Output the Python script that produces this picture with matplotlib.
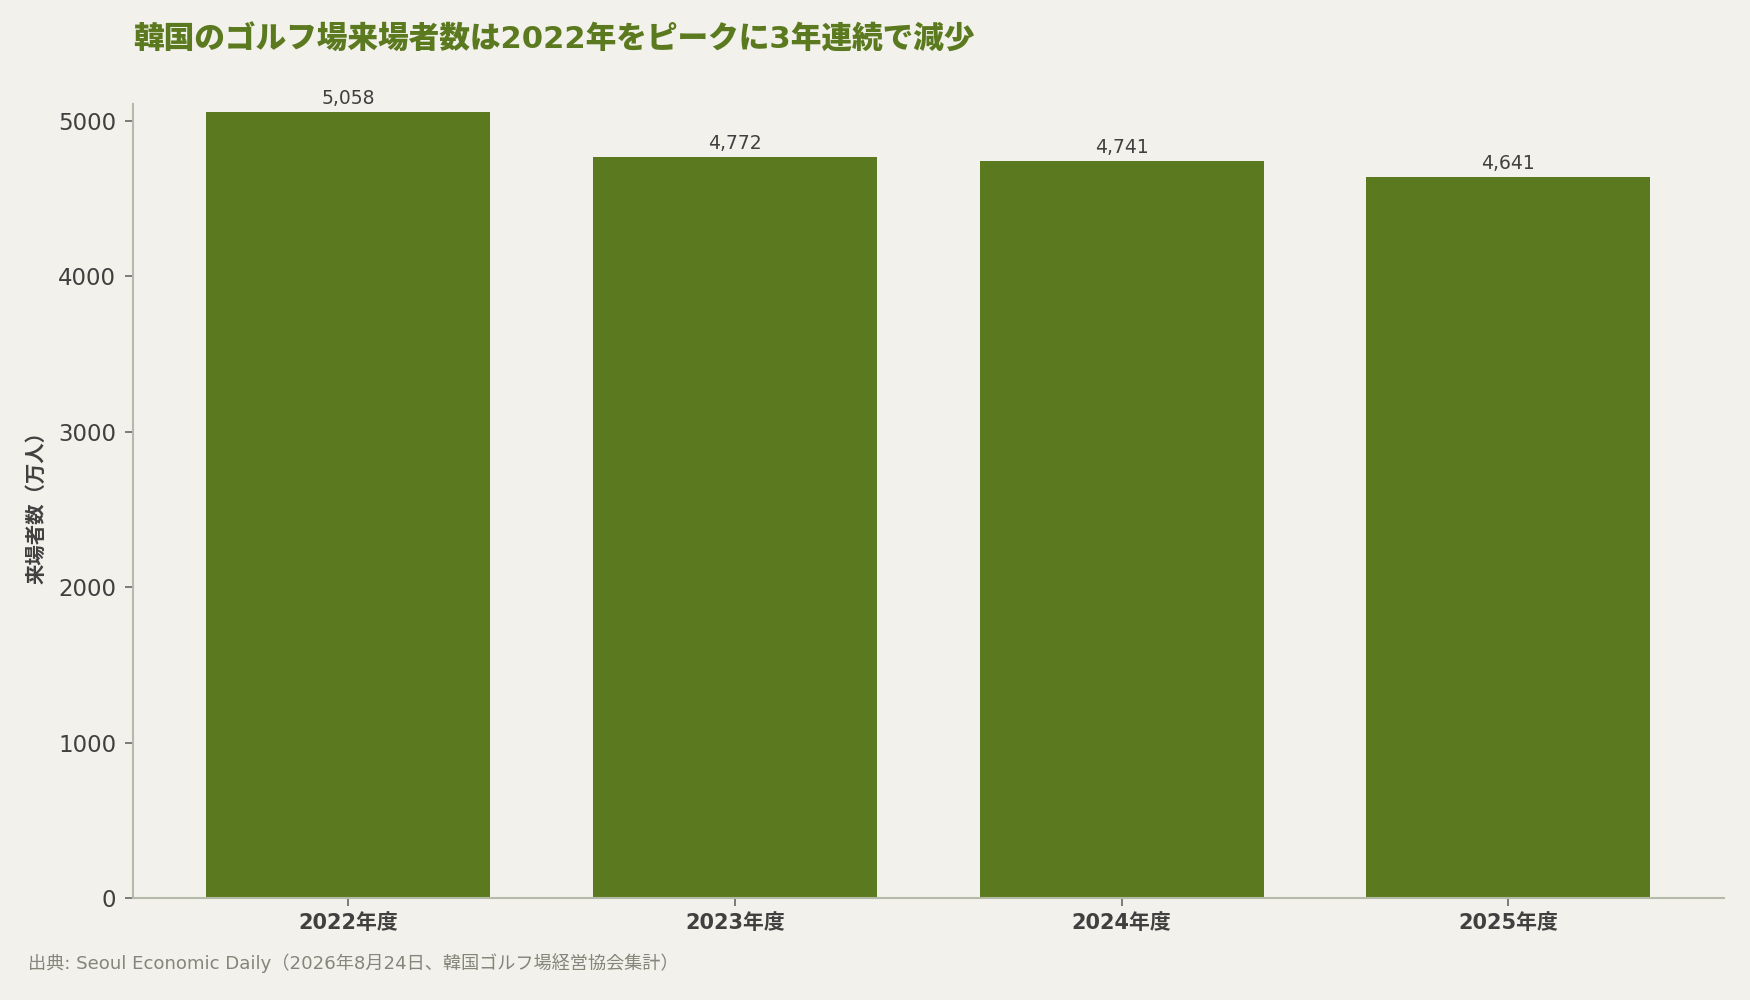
import matplotlib.pyplot as plt

plt.rcParams['font.family'] = ['DejaVu Sans', 'Noto Sans CJK JP']

years = ["2022年度", "2023年度", "2024年度", "2025年度"]
visitors = [5058, 4772, 4741, 4641]
yticks = [0, 1000, 2000, 3000, 4000, 5000]

bg = "#f3f1eb"
green = "#5b7a1f"
dark = "#404040"

fig = plt.figure(figsize=(17.5, 10), dpi=100, facecolor=bg)
ax = fig.add_axes([0.076, 0.102, 0.909, 0.794])
ax.set_facecolor(bg)

bars = ax.bar(range(len(years)), visitors, width=0.735, color=green)
for rect, v in zip(bars, visitors):
    ax.text(rect.get_x() + rect.get_width() / 2, v + 25, f"{v:,}",
            ha="center", va="bottom", fontsize=13.5, color=dark)

ax.set_xlim(-0.557, len(years) - 1 + 0.557)
ax.set_ylim(0, 5110)
ax.set_xticks(range(len(years)))
ax.set_xticklabels(years, fontsize=15, fontweight="bold", color=dark)
ax.set_yticks(yticks)
ax.set_yticklabels([str(t) for t in yticks], fontsize=16.5, color=dark)

for s in ["top", "right"]:
    ax.spines[s].set_visible(False)
for s in ["left", "bottom"]:
    ax.spines[s].set_color("#b5b9a8")
    ax.spines[s].set_linewidth(1.5)
ax.tick_params(axis="y", length=6, width=1.2, color="#666666", pad=6)
ax.tick_params(axis="x", length=6, width=1.2, color="#666666", pad=5)

fig.text(0.076, 0.96, "韓国のゴルフ場来場者数は2022年をピークに3年連続で減少",
         fontsize=22.1, fontweight="heavy", color=green, ha="left", va="center")
fig.text(0.021, 0.498, "来場者数（万人）", rotation=90, fontsize=14.7, fontweight="bold",
         color=dark, ha="center", va="center")
fig.text(0.016, 0.037, "出典: Seoul Economic Daily（2026年8月24日、韓国ゴルフ場経営協会集計）",
         fontsize=13.1, color="#858579", ha="left", va="center")

fig.savefig("out.png", dpi=100, facecolor=bg)
